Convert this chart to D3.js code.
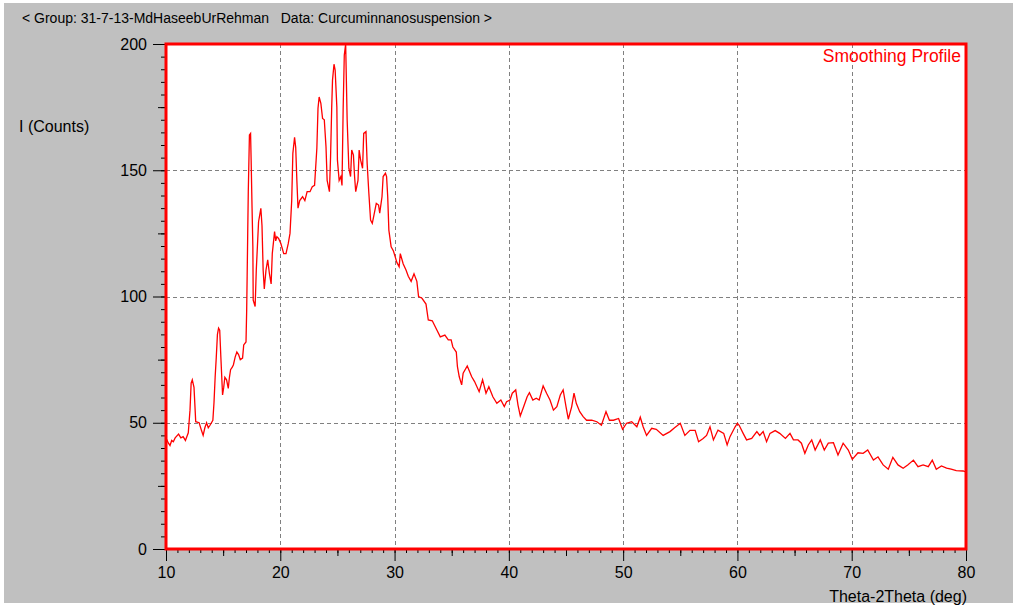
<!DOCTYPE html>
<html>
<head>
<meta charset="utf-8">
<script src="https://cdn.jsdelivr.net/npm/d3@7"></script>
<style>
  html, body { margin: 0; padding: 0; background: #ffffff; }
  svg { display: block; font-family: "Liberation Sans", Arial, sans-serif; }
  text { white-space: pre; }
</style>
</head>
<body>
<svg id="chart" width="1021" height="607"></svg>
<script>
// ---- data ----
const twoTheta = [
  10.0,10.2,10.35,10.5,10.64,10.8,11.1,11.3,11.5,11.7,11.95,12.1,12.2,12.3,12.45,12.55,12.6,12.9,13.1,13.25,
  13.4,13.55,13.7,13.85,14.1,14.2,14.3,14.4,14.5,14.6,14.7,14.8,14.95,15.05,15.15,15.3,15.45,15.55,15.65,15.8,
  15.9,16.05,16.2,16.35,16.5,16.7,16.8,17.0,17.06,17.1,17.15,17.2,17.3,17.4,17.45,17.53,17.6,17.63,17.8,17.9,
  18.1,18.3,18.4,18.5,18.6,18.75,18.9,19.05,19.2,19.3,19.5,19.6,19.7,19.85,20.05,20.3,20.5,20.7,20.85,21.0,
  21.1,21.25,21.35,21.45,21.55,21.7,21.95,22.15,22.35,22.6,22.8,23.0,23.2,23.3,23.4,23.55,23.7,23.85,24.0,24.1,
  24.3,24.4,24.5,24.57,24.7,24.8,24.95,25.0,25.15,25.3,25.4,25.5,25.6,25.72,25.85,26.0,26.15,26.25,26.4,26.5,
  26.6,26.8,26.9,27.03,27.2,27.3,27.5,27.6,27.75,27.9,28.05,28.2,28.4,28.6,28.7,28.9,29.0,29.2,29.3,29.4,
  29.5,29.7,29.9,30.05,30.2,30.4,30.5,30.75,31.0,31.2,31.45,31.7,31.95,32.1,32.4,32.75,32.95,33.3,33.7,34.0,
  34.4,34.7,34.95,35.1,35.4,35.5,35.66,35.87,36.0,36.36,36.75,37.0,37.4,37.7,38.0,38.25,38.6,38.95,39.3,39.6,
  39.8,40.1,40.3,40.6,40.8,41.0,41.3,41.6,41.8,42.1,42.4,42.65,43.0,43.3,43.6,43.9,44.2,44.5,44.75,45.0,
  45.2,45.5,45.7,45.9,46.2,46.5,46.8,47.25,47.7,48.1,48.5,48.8,49.15,49.6,49.95,50.3,50.75,51.2,51.5,51.75,
  52.05,52.5,52.9,53.5,54.1,54.5,55.0,55.4,55.85,56.3,56.6,57.0,57.3,57.6,57.9,58.3,58.8,59.1,59.35,59.8,
  60.0,60.15,60.5,60.8,61.25,61.7,61.95,62.25,62.55,62.85,63.3,63.7,64.2,64.6,64.9,65.3,65.6,65.9,66.2,66.5,
  66.8,67.25,67.6,67.95,68.4,68.8,69.25,69.7,70.05,70.55,71.0,71.4,71.9,72.3,72.75,73.2,73.6,74.05,74.5,74.9,
  75.4,75.8,76.25,76.7,77.05,77.4,77.85,78.3,78.7,79.15,79.75,80.0
];
const counts = [
  44,42,41,43,42.5,44,45.5,44,44.5,43,46,55,65.7,67,64,55,50.4,50,47,45,
  48,50,48,49,51,58,68,76,85,87.5,86.7,76,61,64,68,67,63.6,68,71,72,
  73,76,78,77,75,75.6,80.8,82,94.6,107.8,125,141.5,164,164.6,154,135,119.7,98.6,96,110.5,
  129.6,134.9,128,110.5,103,110.5,114.5,109,105,117,125.7,122,123.7,123,121,117,117,121,125,138,
  156.7,163,159,146,135,138,139.5,138,141.5,141.5,143.5,144,158.7,174.5,179,176.5,170.5,170,159.3,146,
  141.5,155.4,175,185.7,192,189.7,175,154,146,147.5,144,174,195.6,200,170,150.8,147.5,158,156,147.5,
  141.5,146,158,154,150.8,164.6,165.3,152.8,140.9,130.3,129,132.3,136.9,136.2,133,139.5,147.5,148.8,147.5,139.5,
  126.3,119.7,118,115.8,113.5,111.8,117,113,110.5,108,106,109,106,100,99.3,97,90.7,90.4,86.7,84,
  84.7,82.8,82.8,80,78,72.2,68.2,65,69.6,72.5,68.2,66.3,62.3,67,61.7,64.3,60.3,57.7,59,56.4,
  58.3,59,61.7,63,57,52.7,56.4,60.3,61.9,59,59.7,59,64.6,61.7,59,55,56.4,61,63,56.4,
  51.4,56.4,61.7,57.7,54.4,52.4,51,51,50.4,49,54.4,51,51,51.7,47.4,49.8,50.4,48.4,52.2,48.4,
  45,47.8,47.4,45,46.5,48,49.8,45,47,47,42.5,43.8,45,48.4,43.2,47.1,45.8,41.2,44.5,48.4,
  49.8,49,45.8,43.2,43.8,46.5,45,46.5,42.5,45.8,46.9,45.8,43.8,45.8,43.2,43.2,41.9,37.9,41.2,43.2,
  39.2,43.2,39.2,41.9,42.1,37.2,41.9,39.2,35.5,38.1,37.9,39.2,35.2,36.5,33.3,31.6,36.3,33.3,32,33.3,
  35.2,32.6,33.3,32.6,35.2,31.6,32.9,32,31.6,31,30.9,30.5
];
const xMajorTicks = [10, 20, 30, 40, 50, 60, 70, 80];
const yMajorTicks = [0, 50, 100, 150, 200];
const headerText = "< Group: 31-7-13-MdHaseebUrRehman   Data: Curcuminnanosuspension >";
const yTitle = "I (Counts)";
const xTitle = "Theta-2Theta (deg)";
const profileLabel = "Smoothing Profile";

// ---- layout ----
const W = 1021, H = 607;
const plot = { left: 166, right: 966, top: 44, bottom: 549 };
const svg = d3.select("#chart");

// outer background
svg.append("rect").attr("x", 0).attr("y", 0).attr("width", W).attr("height", H).attr("fill", "#ffffff");
svg.append("rect").attr("x", 4).attr("y", 3).attr("width", 1009).attr("height", 600).attr("fill", "#c0c0c0");

const x = d3.scaleLinear().domain([10, 80]).range([plot.left, plot.right]);
const y = d3.scaleLinear().domain([0, 200]).range([plot.bottom, plot.top]);

// plot background
svg.append("rect")
  .attr("x", plot.left).attr("y", plot.top)
  .attr("width", plot.right - plot.left).attr("height", plot.bottom - plot.top)
  .attr("fill", "#ffffff");

// grid (dashed)
const grid = svg.append("g").attr("stroke", "#808080").attr("stroke-width", 1).attr("stroke-dasharray", "4,3");
grid.selectAll("line.vx").data(xMajorTicks.filter(d => d > 10 && d < 80)).join("line")
  .attr("x1", d => Math.round(x(d)) + 0.5).attr("x2", d => Math.round(x(d)) + 0.5)
  .attr("y1", plot.top).attr("y2", plot.bottom);
grid.selectAll("line.hy").data(yMajorTicks.filter(d => d > 0 && d < 200)).join("line")
  .attr("y1", d => Math.round(y(d)) + 0.5).attr("y2", d => Math.round(y(d)) + 0.5)
  .attr("x1", plot.left).attr("x2", plot.right);

// data line
const pts = twoTheta.map((t, i) => [t, counts[i]]);
svg.append("path")
  .datum(pts)
  .attr("fill", "none")
  .attr("stroke", "#ff0000")
  .attr("stroke-width", 1.3)
  .attr("stroke-linejoin", "miter")
  .attr("d", d3.line().x(d => x(d[0])).y(d => y(d[1])));

// axes: minor / medium / major ticks
function styleAxis(g) {
  g.select(".domain").remove();
  g.selectAll(".tick line").attr("stroke", "#000000");
  g.selectAll("text").attr("fill", "#000000");
}
const fs = 16;
// Y axis
svg.append("g").attr("transform", `translate(${plot.left},0)`)
  .call(d3.axisLeft(y).tickValues(d3.range(0, 201, 5)).tickSize(5).tickFormat(""))
  .call(styleAxis);
svg.append("g").attr("transform", `translate(${plot.left},0)`)
  .call(d3.axisLeft(y).tickValues([25, 75, 125, 175]).tickSize(8).tickFormat(""))
  .call(styleAxis);
svg.append("g").attr("transform", `translate(${plot.left},0)`)
  .call(d3.axisLeft(y).tickValues(yMajorTicks).tickSize(13).tickPadding(6).tickFormat(d3.format("d")))
  .call(styleAxis)
  .selectAll("text").attr("font-size", fs).attr("font-family", "Liberation Sans, Arial, sans-serif");
// X axis
svg.append("g").attr("transform", `translate(0,${plot.bottom})`)
  .call(d3.axisBottom(x).tickValues(d3.range(10, 81, 1)).tickSize(4).tickFormat(""))
  .call(styleAxis);
svg.append("g").attr("transform", `translate(0,${plot.bottom})`)
  .call(d3.axisBottom(x).tickValues(d3.range(15, 80, 10)).tickSize(7).tickFormat(""))
  .call(styleAxis);
svg.append("g").attr("transform", `translate(0,${plot.bottom})`)
  .call(d3.axisBottom(x).tickValues(xMajorTicks).tickSize(12).tickPadding(6).tickFormat(d3.format("d")))
  .call(styleAxis)
  .selectAll("text").attr("font-size", fs).attr("font-family", "Liberation Sans, Arial, sans-serif");

// frame
svg.append("rect")
  .attr("x", plot.left).attr("y", plot.top)
  .attr("width", plot.right - plot.left).attr("height", plot.bottom - plot.top)
  .attr("fill", "none").attr("stroke", "#ff0000").attr("stroke-width", 3);

// texts
svg.append("text").attr("x", 22).attr("y", 23).attr("font-size", 14).attr("fill", "#000")
  .attr("xml:space", "preserve")
  .text(headerText);
svg.append("text").attr("x", 19).attr("y", 132).attr("font-size", 16).attr("fill", "#000")
  .text(yTitle);
svg.append("text").attr("x", 967).attr("y", 602).attr("text-anchor", "end").attr("font-size", 16).attr("fill", "#000")
  .text(xTitle);
svg.append("text").attr("x", 961).attr("y", 62).attr("text-anchor", "end").attr("font-size", 17.5).attr("fill", "#ff0000")
  .text(profileLabel);
</script>
</body>
</html>
